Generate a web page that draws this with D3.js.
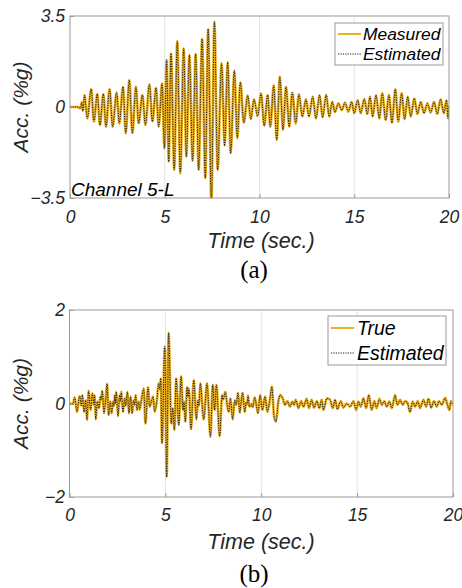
<!DOCTYPE html>
<html><head><meta charset="utf-8">
<script src="https://cdn.jsdelivr.net/npm/d3@7"></script>
<style>
body{margin:0;background:#fff;}
svg{display:block;}
.tk text{font-family:"Liberation Sans",Arial,sans-serif;font-style:italic;font-size:17.5px;fill:#262626;}
</style></head>
<body>
<script>
// ---- data (peaks/troughs) ----
const timeTicks = [0, 5, 10, 15, 20];
const accTicksA = [-3.5, 0, 3.5];
const accTicksB = [-2, 0, 2];
const legendA = ["Measured", "Estimated"];
const legendB = ["True", "Estimated"];
const panelLabels = ["(a)", "(b)"];

const timeA = [0,0.42,0.55,0.62,0.68,0.77,0.91,1.12,1.26,1.44,1.58,1.76,1.9,2.09,2.25,2.46,2.6,2.8,2.94,3.13,3.29,3.48,3.62,3.82,3.98,4.19,4.35,4.54,4.68,4.86,4.98,5.1,5.21,5.33,5.5,5.66,5.82,6.0,6.14,6.3,6.47,6.63,6.79,6.97,7.14,7.29,7.46,7.62,7.79,8.0,8.16,8.32,8.48,8.67,8.83,8.99,9.17,9.38,9.54,9.71,9.9,10.08,10.25,10.43,10.57,10.75,10.91,11.07,11.24,11.4,11.57,11.73,11.91,12.08,12.26,12.45,12.61,12.81,12.98,13.17,13.33,13.52,13.68,13.84,13.98,14.16,14.34,14.51,14.69,14.86,15.0,15.18,15.34,15.53,15.69,15.83,15.97,16.15,16.32,16.48,16.66,16.83,16.99,17.17,17.32,17.5,17.66,17.82,17.98,18.17,18.33,18.51,18.68,18.86,19.03,19.21,19.38,19.56,19.73,19.87,19.95,20];
const measuredA = [0,0,-0.05,0.18,-0.15,0.46,-0.44,0.69,-0.56,0.5,-0.69,0.5,-0.76,0.69,-0.76,0.56,-0.63,0.78,-1.01,1.04,-1.01,0.78,-0.63,0.46,-0.69,0.87,-0.56,0.74,-0.76,0.91,-1.59,1.81,-2.1,2.06,-2.42,2.54,-2.55,2.26,-1.91,2.0,-2.07,2.04,-2.42,2.62,-2.74,3.0,-3.7,3.28,-2.42,1.68,-1.49,1.72,-1.78,1.4,-1.2,0.95,-0.6,0.44,-0.47,0.3,-0.35,0.53,-0.72,0.46,-0.76,0.83,-1.27,1.17,-0.88,0.78,-0.76,0.56,-0.63,0.49,-0.37,0.3,-0.37,0.4,-0.44,0.46,-0.4,0.47,-0.37,0.2,-0.2,0.14,-0.12,0.17,-0.18,0.2,-0.24,0.27,-0.24,0.31,-0.28,0.4,-0.37,0.46,-0.44,0.53,-0.5,0.46,-0.6,0.68,-0.56,0.53,-0.47,0.4,-0.37,0.33,-0.27,0.2,-0.24,0.14,-0.22,0.2,-0.27,0.3,-0.24,0.27,-0.44,0.05];
const estimatedA = measuredA.slice();

const timeB = [0,0.18,0.27,0.39,0.53,0.62,0.67,0.76,0.84,0.91,1.0,1.1,1.19,1.28,1.31,1.37,1.45,1.54,1.61,1.66,1.71,1.8,1.89,1.96,2.04,2.13,2.2,2.27,2.32,2.36,2.4,2.44,2.53,2.62,2.66,2.7,2.79,2.88,2.93,3.02,3.1,3.19,3.26,3.35,3.4,3.45,3.52,3.61,3.66,3.75,3.87,3.96,4.1,4.18,4.27,4.36,4.44,4.55,4.65,4.71,4.76,4.82,4.97,5.07,5.17,5.31,5.38,5.47,5.56,5.7,5.82,5.92,5.97,6.04,6.13,6.18,6.22,6.34,6.48,6.62,6.7,6.75,6.82,7.0,7.17,7.35,7.47,7.57,7.66,7.83,7.96,8.0,8.06,8.13,8.22,8.3,8.39,8.51,8.62,8.69,8.79,8.88,8.97,9.03,9.14,9.21,9.26,9.31,9.38,9.48,9.55,9.66,9.83,9.94,10.06,10.2,10.32,10.46,10.55,10.67,10.77,10.89,10.98,11.12,11.24,11.36,11.5,11.62,11.71,11.8,11.94,12.08,12.2,12.37,12.49,12.63,12.75,12.9,13.03,13.15,13.24,13.42,13.59,13.73,13.85,13.97,14.15,14.28,14.46,14.63,14.81,14.95,15.07,15.19,15.33,15.47,15.61,15.76,15.9,16.02,16.16,16.29,16.41,16.55,16.68,16.81,16.98,17.1,17.24,17.38,17.5,17.62,17.76,17.9,18.02,18.16,18.28,18.46,18.6,18.72,18.86,19.01,19.15,19.27,19.41,19.59,19.71,19.81,19.89,20];
const trueB = [0,-0.01,0.13,-0.18,0.16,-0.05,0.18,-0.18,0.07,-0.35,0.27,-0.14,0.22,-0.03,0.18,-0.34,0.04,-0.1,0.15,0.08,0.27,-0.21,0.11,0.42,-0.25,0.04,-0.21,0.04,-0.05,0.18,0.0,0.25,-0.27,0.18,0.05,0.25,-0.18,0.11,-0.05,0.25,-0.21,0.15,-0.21,0.07,-0.03,0.18,-0.14,0.04,-0.13,0.07,0.32,-0.43,0.35,-0.07,0.04,0.15,-0.18,0.04,0.43,0.3,0.54,-0.85,1.22,-1.57,1.51,-0.43,-0.1,-0.57,0.54,-0.46,0.58,-0.14,0.04,-0.39,0.35,0.15,0.32,-0.55,0.5,-0.34,0.07,-0.05,0.43,-0.34,0.43,-0.71,0.4,-0.14,0.4,-0.7,0.18,0.08,0.14,0.25,-0.03,-0.18,0.11,-0.34,0.07,-0.03,0.23,-0.2,0.1,0.23,-0.18,0.02,-0.02,0.17,-0.07,-0.01,-0.08,0.13,-0.21,0.18,-0.14,0.15,-0.18,0.11,0.36,-0.28,-0.39,0.04,0.18,0.11,-0.03,0.05,-0.07,0.04,-0.03,0.08,-0.1,0.05,-0.07,0.1,-0.1,0.08,-0.09,0.05,-0.1,0.08,-0.14,0.11,0.08,-0.1,0.08,-0.12,0.05,-0.09,0.0,-0.07,0.05,-0.14,0.04,-0.07,0.11,-0.1,0.18,-0.14,0.05,-0.1,0.1,-0.03,0.05,-0.07,0.04,-0.1,0.18,-0.03,0.08,-0.03,0.05,0.02,-0.18,0.04,-0.07,0.05,-0.1,0.08,-0.07,0.1,-0.09,0.05,-0.07,0.05,-0.03,0.12,-0.03,-0.14,0.05,-0.03];
const estimatedB = trueB.slice();

// ---- drawing ----
const W = 462, H = 588;
const svg = d3.select("body").append("svg").attr("width", W).attr("height", H);
const orange = "#EDB120";
const txt = "#262626";
const sans = "'Liberation Sans',Arial,sans-serif";

function panel(cfg){
  const x = d3.scaleLinear().domain([0,20]).range([cfg.x0, cfg.x1]);
  const y = d3.scaleLinear().domain(cfg.ydom).range([cfg.y1, cfg.y0]);
  const g = svg.append("g");
  // grid
  g.append("g").selectAll("line").data(timeTicks.slice(1,-1)).join("line")
    .attr("x1", d=>x(d)).attr("x2", d=>x(d)).attr("y1", cfg.y0).attr("y2", cfg.y1)
    .attr("stroke", "#e3e3e3").attr("stroke-width", 1);
  g.append("line").attr("x1", cfg.x0).attr("x2", cfg.x1).attr("y1", y(0)).attr("y2", y(0))
    .attr("stroke", "#e3e3e3");
  // clip
  const cid = "clip" + cfg.id;
  svg.append("clipPath").attr("id", cid).append("rect")
    .attr("x", cfg.x0).attr("y", cfg.y0).attr("width", cfg.x1-cfg.x0).attr("height", cfg.y1-cfg.y0);
  const line = d3.line().x((d,i)=>x(cfg.t[i])).y(d=>y(d)).curve(d3.curveMonotoneX);
  const pg = g.append("g").attr("clip-path", `url(#${cid})`);
  pg.append("path").attr("d", line(cfg.s1)).attr("fill","none").attr("stroke", orange)
    .attr("stroke-width", 2.6).attr("stroke-linejoin","round");
  pg.append("path").attr("d", line(cfg.s2)).attr("fill","none").attr("stroke", "#1a1a1a")
    .attr("stroke-width", 1).attr("stroke-dasharray","1.2,1.2");
  // axes
  const ax = g.append("g").attr("class","tk").attr("transform",`translate(0,${cfg.y1})`)
    .call(d3.axisBottom(x).tickValues(timeTicks).tickSize(-4).tickPadding(6).tickFormat(d3.format("d")));
  ax.select(".domain").remove();
  ax.selectAll("line").attr("stroke","#999");
  ax.selectAll("text").attr("y", cfg.xtickY - cfg.y1).attr("dy","0.35em").attr("fill", txt);
  const ay = g.append("g").attr("class","tk").attr("transform",`translate(${cfg.x0},0)`)
    .call(d3.axisLeft(y).tickValues(cfg.yticks).tickSize(-4).tickPadding(5).tickFormat(d=>d3.format("")(d)));
  ay.select(".domain").remove();
  ay.selectAll("line").attr("stroke","#999");
  ay.selectAll("text").attr("x", 65-cfg.x0).attr("fill", txt);
  // frame
  g.append("rect").attr("x", cfg.x0).attr("y", cfg.y0).attr("width", cfg.x1-cfg.x0).attr("height", cfg.y1-cfg.y0)
    .attr("fill","none").attr("stroke","#9a9a9a").attr("stroke-width",1);
  // axis titles
  g.append("text").attr("transform",`translate(21,${(cfg.y0+cfg.y1)/2}) rotate(-90)`)
    .attr("text-anchor","middle").attr("dy","0.35em")
    .style("font-family",sans).style("font-style","italic").style("font-size","21px")
    .attr("fill", txt).text("Acc. (%g)");
  g.append("text").attr("x", 261).attr("y", cfg.titleY).attr("text-anchor","middle").attr("dy","0.35em")
    .style("font-family",sans).style("font-style","italic").style("font-size","21.5px")
    .attr("fill", txt).text("Time (sec.)");
  g.append("text").attr("x", 254).attr("y", cfg.labY).attr("text-anchor","middle").attr("dy","0.35em")
    .style("font-family","'Liberation Serif','Times New Roman',serif").style("font-size","25px")
    .attr("fill","#000").text(cfg.panelLabel);
  // legend
  const L = cfg.leg;
  const lg = g.append("g");
  lg.append("rect").attr("x", L.x).attr("y", L.y).attr("width", L.w).attr("height", L.h)
    .attr("fill","#fff").attr("stroke","#9a9a9a");
  cfg.legNames.forEach((nm,i)=>{
    const yy = L.y + L.r0 + i*L.dr;
    lg.append("line").attr("x1", L.x+3).attr("x2", L.x+26).attr("y1", yy).attr("y2", yy)
      .attr("stroke", i===0 ? orange : "#1a1a1a").attr("stroke-width", i===0 ? 2 : 1)
      .attr("stroke-dasharray", i===0 ? null : "1.2,1.2");
    lg.append("text").attr("x", L.x+L.tx).attr("y", yy).attr("dy","0.35em")
      .style("font-family",sans).style("font-style","italic").style("font-size", L.fs+"px")
      .attr("fill","#000").text(nm);
  });
  return g;
}

const gA = panel({id:"a", x0:70, x1:449, y0:16, y1:198, ydom:[-3.5,3.5], yticks:accTicksA,
  t:timeA, s1:measuredA, s2:estimatedA, xtickY:217, titleY:240, labY:269, panelLabel:panelLabels[0],
  legNames:legendA, leg:{x:335, y:23, w:108, h:42, r0:11, dr:20, tx:28, fs:17.4}});
gA.append("text").attr("x", 71).attr("y", 196)
  .style("font-family",sans).style("font-style","italic").style("font-size","19px")
  .attr("fill","#000").text("Channel 5-L");

panel({id:"b", x0:69.5, x1:453, y0:310, y1:497, ydom:[-2,2], yticks:accTicksB,
  t:timeB, s1:trueB, s2:estimatedB, xtickY:515, titleY:541, labY:573, panelLabel:panelLabels[1],
  legNames:legendB, leg:{x:328, y:316, w:118, h:49, r0:12, dr:25, tx:29, fs:19.5}});
</script>
</body></html>
